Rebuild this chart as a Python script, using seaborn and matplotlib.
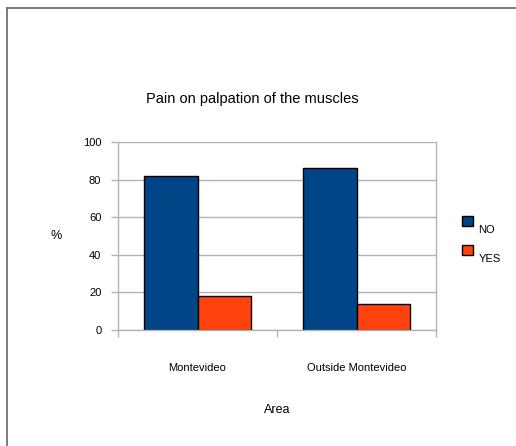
import pandas as pd
import matplotlib
matplotlib.use("Agg")
import matplotlib.pyplot as plt
import seaborn as sns
from matplotlib.lines import Line2D

areas = ["Montevideo", "Outside Montevideo"]
answers = ["NO", "YES"]
no_vals = [82, 86]
yes_vals = [18, 14]
colors = ["#004586", "#ff420e"]

df = pd.DataFrame({
    "Area": areas * 2,
    "answer": ["NO"] * len(areas) + ["YES"] * len(areas),
    "pct": no_vals + yes_vals,
})

sns.set_style("white")
plt.rcParams["font.family"] = ["Liberation Sans", "DejaVu Sans"]
plt.rcParams["text.color"] = "black"
plt.rcParams["xtick.labelcolor"] = "black"
plt.rcParams["ytick.labelcolor"] = "black"
plt.rcParams["axes.labelcolor"] = "black"

fig = plt.figure(figsize=(5.16, 4.46), dpi=100)
ax = fig.add_axes([118 / 516, 1 - 330 / 446, 318 / 516, 188 / 446])

sns.barplot(data=df, x="Area", y="pct", hue="answer", hue_order=answers,
            palette=colors, edgecolor="black", linewidth=1.0, width=0.67,
            saturation=1, ax=ax, legend=True)

ax.set_ylim(0, 100)
ax.set_xlim(-0.5, 1.5)
ax.set_yticks(range(0, 101, 20))
ax.yaxis.grid(True, color="#b3b3b3", linewidth=1)
ax.set_axisbelow(True)
ax.spines["top"].set_visible(False)
for s in ["left", "right", "bottom"]:
    ax.spines[s].set_color("#b3b3b3")
    ax.spines[s].set_linewidth(1)

# ticks between the groups, labels under the groups
ax.set_xticks([-0.5, 0.5, 1.5], minor=False)
ax.set_xticklabels([])
ax.set_xticks([0, 1], minor=True)
ax.set_xticklabels(areas, minor=True, fontsize=8)
ax.tick_params(axis="x", which="major", length=5, color="#b3b3b3", width=1, direction="out", bottom=True)
ax.tick_params(axis="x", which="minor", length=0, pad=24)
ax.tick_params(axis="y", length=5, color="#b3b3b3", width=1, direction="out", left=True, labelsize=8, pad=7)

ax.set_xlabel("Area", fontsize=9, labelpad=22)
ax.set_ylabel("%", fontsize=9, rotation=0, labelpad=19, va="center")
ax.set_title("Pain on palpation of the muscles", fontsize=10.5, pad=28, x=0.421)

handles = [plt.Rectangle((0, 0), 1, 1, facecolor=c, edgecolor="black", linewidth=1) for c in colors]
leg = ax.legend(handles, answers, loc="center left", bbox_to_anchor=(1.05, 0.5),
                frameon=False, fontsize=8, handlelength=1.0, handleheight=1.0,
                labelspacing=1.6, handletextpad=0.5)
for t in leg.get_texts():
    t.set_va("top")

fig.add_artist(Line2D([7 / 516, 7 / 516], [0, 1 - 8 / 446], color="#666666", linewidth=1.2))
fig.add_artist(Line2D([7 / 516, 1], [1 - 8 / 446, 1 - 8 / 446], color="#666666", linewidth=1.2))

fig.savefig("out.png", dpi=100)
